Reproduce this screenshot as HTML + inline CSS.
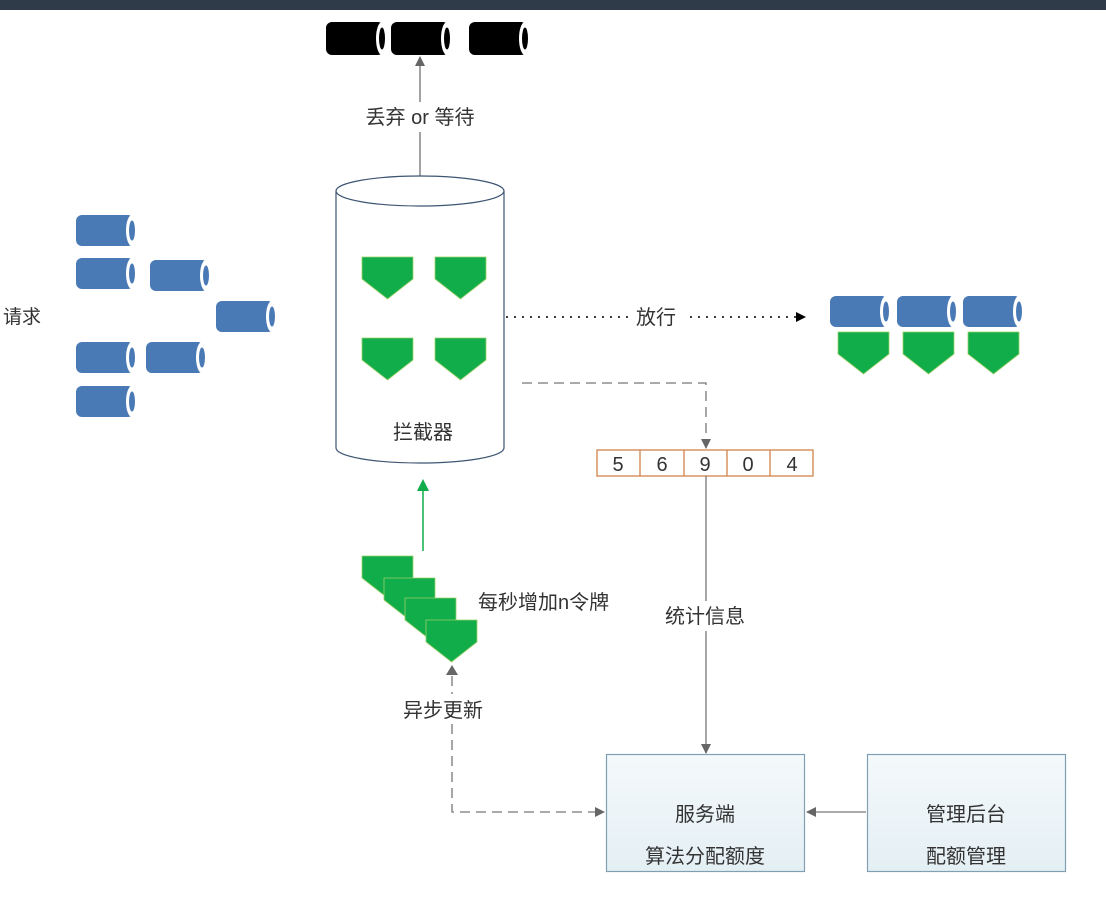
<!DOCTYPE html>
<html><head><meta charset="utf-8"><style>
html,body{margin:0;padding:0;background:#fff;}
svg{display:block;}
text{font-family:"Liberation Sans","Noto Sans CJK SC",sans-serif;fill:#333;}
</style></head><body>
<svg width="1106" height="922" viewBox="0 0 1106 922" xmlns="http://www.w3.org/2000/svg">
<defs>
<g id="tb"><rect x="0" y="0" width="58" height="31" rx="6" fill="#4a7ab5"/><ellipse cx="56" cy="15.5" rx="6" ry="15.5" fill="#fff"/><ellipse cx="56" cy="15.5" rx="3" ry="10" fill="#4a7ab5"/></g>
<g id="tk"><rect x="0" y="0" width="58" height="33" rx="6" fill="#000"/><ellipse cx="56" cy="16.5" rx="6" ry="16.5" fill="#fff"/><ellipse cx="56" cy="16.5" rx="3" ry="11" fill="#000"/></g>
<polygon id="pg" points="0,0 51,0 51,22 25.5,42 0,22" fill="#10ad4a" stroke="#9ad06a" stroke-width="0.8"/>
<marker id="ar" markerWidth="10" markerHeight="10" refX="9" refY="5" orient="auto" markerUnits="userSpaceOnUse"><path d="M0,0 L10,5 L0,10 z" fill="#666"/></marker>
<marker id="ak" markerWidth="10" markerHeight="10" refX="9" refY="5" orient="auto" markerUnits="userSpaceOnUse"><path d="M0,0 L10,5 L0,10 z" fill="#000"/></marker>
<marker id="ag" markerWidth="12" markerHeight="12" refX="10" refY="6" orient="auto" markerUnits="userSpaceOnUse"><path d="M0,0 L12,6 L0,12 z" fill="#10ad4a"/></marker>
<linearGradient id="bx" x1="0" y1="0" x2="0" y2="1"><stop offset="0" stop-color="#f4f9fb"/><stop offset="1" stop-color="#e4eff4"/></linearGradient>
</defs>
<rect x="0" y="0" width="1106" height="10" fill="#2f3b48"/>

<use href="#tk" x="326" y="22"/><use href="#tk" x="391" y="22"/><use href="#tk" x="469" y="22"/>
<line x1="420" y1="176" x2="420" y2="57" stroke="#666" stroke-width="1.2" marker-end="url(#ar)"/>
<rect x="355" y="102" width="130" height="30" fill="#fff"/>
<text x="420" y="124" font-size="20" text-anchor="middle">丢弃 or 等待</text>

<use href="#tb" x="76" y="215"/><use href="#tb" x="76" y="258"/><use href="#tb" x="150" y="260"/>
<use href="#tb" x="216" y="301"/><use href="#tb" x="76" y="342"/><use href="#tb" x="146" y="342"/><use href="#tb" x="76" y="386"/>
<text x="3" y="323" font-size="19">请求</text>

<path d="M336,191 L336,448 A84,15 0 0 0 504,448 L504,191" fill="#fff" stroke="#3d5573" stroke-width="1.2"/>
<ellipse cx="420" cy="191" rx="84" ry="15" fill="#fff" stroke="#3d5573" stroke-width="1.2"/>
<use href="#pg" x="362" y="257"/><use href="#pg" x="435" y="257"/><use href="#pg" x="362" y="338"/><use href="#pg" x="435" y="338"/>
<text x="423" y="439" font-size="20" text-anchor="middle">拦截器</text>

<line x1="506" y1="317" x2="805" y2="317" stroke="#000" stroke-width="1.5" stroke-dasharray="2,6" marker-end="url(#ak)"/>
<rect x="628" y="302" width="56" height="28" fill="#fff"/>
<text x="656" y="324" font-size="20" text-anchor="middle">放行</text>

<use href="#tb" x="830" y="296"/><use href="#tb" x="897" y="296"/><use href="#tb" x="963" y="296"/>
<use href="#pg" x="838" y="332"/><use href="#pg" x="903" y="332"/><use href="#pg" x="968" y="332"/>

<path d="M522,383 L706,383 L706,448" fill="none" stroke="#777" stroke-width="1.3" stroke-dasharray="10,6" marker-end="url(#ar)"/>
<g stroke="#d2824a" stroke-width="1.3" fill="#fff">
<rect x="597" y="450" width="216" height="26"/>
<line x1="640" y1="450" x2="640" y2="476"/><line x1="684" y1="450" x2="684" y2="476"/><line x1="727" y1="450" x2="727" y2="476"/><line x1="770" y1="450" x2="770" y2="476"/>
</g>
<g font-size="20" text-anchor="middle"><text x="618" y="471">5</text><text x="662" y="471">6</text><text x="705" y="471">9</text><text x="748" y="471">0</text><text x="792" y="471">4</text></g>
<line x1="706" y1="476" x2="706" y2="753" stroke="#777" stroke-width="1.3" marker-end="url(#ar)"/>
<rect x="658" y="601" width="96" height="30" fill="#fff"/>
<text x="705" y="623" font-size="20" text-anchor="middle">统计信息</text>

<line x1="423" y1="551" x2="423" y2="481" stroke="#10ad4a" stroke-width="1.5" marker-end="url(#ag)"/>
<use href="#pg" x="362" y="556"/><use href="#pg" x="384" y="578"/><use href="#pg" x="405" y="598"/><use href="#pg" x="426" y="620"/>
<text x="478" y="609" font-size="20">每秒增加n令牌</text>
<path d="M452,665 L458,675 L446,675 z" fill="#666"/>
<path d="M452,676 L452,812 L604,812" fill="none" stroke="#777" stroke-width="1.3" stroke-dasharray="10,6" marker-end="url(#ar)"/>
<rect x="393" y="694" width="104" height="30" fill="#fff"/>
<text x="443" y="717" font-size="20" text-anchor="middle">异步更新</text>

<rect x="606.5" y="754.5" width="198" height="117" fill="url(#bx)" stroke="#7fa0b3" stroke-width="1.2"/>
<rect x="867.5" y="754.5" width="198" height="117" fill="url(#bx)" stroke="#7fa0b3" stroke-width="1.2"/>
<line x1="866" y1="812" x2="807" y2="812" stroke="#777" stroke-width="1.3" marker-end="url(#ar)"/>
<text x="705" y="821" font-size="20" text-anchor="middle">服务端</text>
<text x="705" y="863" font-size="20" text-anchor="middle">算法分配额度</text>
<text x="966" y="821" font-size="20" text-anchor="middle">管理后台</text>
<text x="966" y="863" font-size="20" text-anchor="middle">配额管理</text>
</svg>
</body></html>
